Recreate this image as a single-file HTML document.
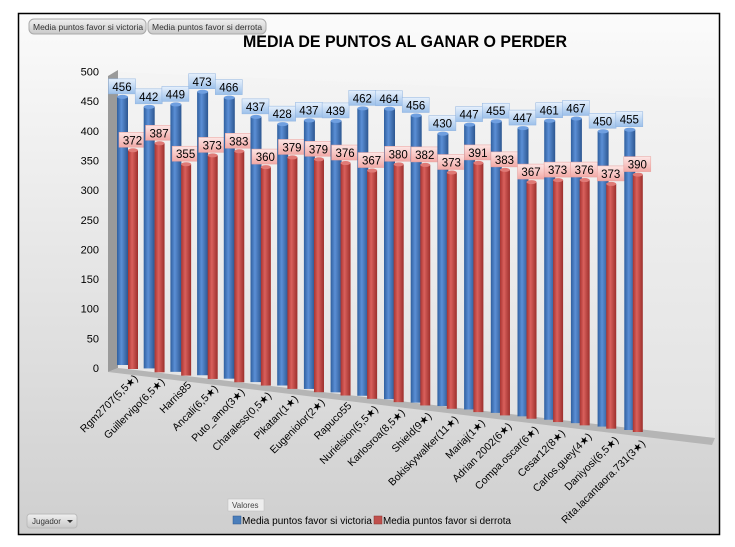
<!DOCTYPE html>
<html><head><meta charset="utf-8">
<style>
html,body{margin:0;padding:0;background:#fff;width:735px;height:547px;overflow:hidden;font-family:"Liberation Sans",sans-serif;}
</style></head>
<body>
<svg id="s" width="735" height="547" xmlns="http://www.w3.org/2000/svg" font-family="Liberation Sans, DejaVu Sans, sans-serif">
<defs>
<linearGradient id="bg" x1="0" y1="0" x2="0" y2="1"><stop offset="0" stop-color="#fbfbfb"/><stop offset="1" stop-color="#cfcfcf"/></linearGradient>
<linearGradient id="wall" x1="0" y1="0" x2="0" y2="1"><stop offset="0" stop-color="#f4f4f4"/><stop offset="1" stop-color="#e2e2e2"/></linearGradient>
<linearGradient id="bb" x1="0" y1="0" x2="1" y2="0"><stop offset="0" stop-color="#2f5f9e"/><stop offset="0.4" stop-color="#5b8fd6"/><stop offset="1" stop-color="#2c5690"/></linearGradient>
<linearGradient id="rb" x1="0" y1="0" x2="1" y2="0"><stop offset="0" stop-color="#a83431"/><stop offset="0.4" stop-color="#d9605c"/><stop offset="1" stop-color="#9c2f2c"/></linearGradient>
<linearGradient id="bl" x1="0" y1="0" x2="0" y2="1"><stop offset="0" stop-color="#e6f0fc"/><stop offset="1" stop-color="#9cc0ea"/></linearGradient>
<linearGradient id="rl" x1="0" y1="0" x2="0" y2="1"><stop offset="0" stop-color="#fde6e5"/><stop offset="1" stop-color="#f2a9a6"/></linearGradient>
<linearGradient id="btn" x1="0" y1="0" x2="0" y2="1"><stop offset="0" stop-color="#f0f0f0"/><stop offset="1" stop-color="#c9c9c9"/></linearGradient>
</defs>
<rect x="18.5" y="13.5" width="701" height="521" fill="url(#bg)" stroke="#000" stroke-width="1.5"/>
<rect x="29" y="19" width="117" height="15" rx="5" fill="url(#btn)" stroke="#aaa"/>
<text x="33" y="30" font-size="8.5" fill="#333">Media puntos favor si victoria</text>
<rect x="148" y="19" width="118" height="15" rx="5" fill="url(#btn)" stroke="#aaa"/>
<text x="152" y="30" font-size="8.5" fill="#333">Media puntos favor si derrota</text>
<text x="243" y="47" font-size="17" font-weight="bold" textLength="324" lengthAdjust="spacingAndGlyphs" fill="#000">MEDIA DE PUNTOS AL GANAR O PERDER</text>
<polygon points="118,72 715,98 715,438 118,368" fill="url(#wall)"/>
<polygon points="108,76 118,70 118,368 108,372" fill="#9a9a9a"/>
<polygon points="108,372 118,368 715,438 712,445" fill="#b5b5b5"/>
<g id="g"></g>
<rect x="228" y="499" width="36" height="12" fill="#eee" stroke="#bbb" stroke-width="0.5"/>
<text x="232" y="508" font-size="8" fill="#444">Valores</text>
<rect x="233" y="516" width="8" height="8" fill="#4a7ebb" stroke="#2c5690" stroke-width="0.5"/>
<text x="242" y="524" font-size="10" textLength="130" lengthAdjust="spacingAndGlyphs" fill="#000">Media puntos favor si victoria</text>
<rect x="374" y="516" width="8" height="8" fill="#c0504d" stroke="#8c2e2b" stroke-width="0.5"/>
<text x="383" y="524" font-size="10" textLength="128" lengthAdjust="spacingAndGlyphs" fill="#000">Media puntos favor si derrota</text>
<rect x="27" y="514" width="50" height="14" rx="3" fill="url(#btn)" stroke="#bbb"/>
<text x="32" y="524" font-size="8" fill="#333">Jugador</text>
<polygon points="67,520 73,520 70,523" fill="#333"/>
</svg>
<script>
var names=["Rgm2707(5,5★)","Guillervigo(6,5★)","Harris85","Ancali(6,5★)","Puto_amo(3★)","Charaless(0,5★)","Pikatan(1★)","Eugeniolor(2★)","Rapuco55","Nurielsion(5,5★)","Karlosroa(8,5★)","Shield(9★)","Bokiskywalker(11★)","Mariaj(1★)","Adrian 2002(6★)","Compa.oscar(6★)","Cesar12(8★)","Carlos.guey(4★)","Daniyosi(6,5★)","Rita.lacantaora.731(3★)"];
var B=[456,442,449,473,466,437,428,437,439,462,464,456,430,447,455,447,461,467,450,455];
var R=[372,387,355,373,383,360,379,379,376,367,380,382,373,391,383,367,373,376,373,390];
var g=document.getElementById('g'),h='';
var ticks=[0,50,100,150,200,250,300,350,400,450,500];
ticks.forEach(function(t){var y=368-t*0.593;h+='<text x="99" y="'+(y+4)+'" font-size="11" text-anchor="end" fill="#000">'+t+'</text>';});
for(var i=0;i<20;i++){
 var f=i/19,xb=122.5+26.7*i,bot=365+65*f,sc=0.588+0.072*f;
 var xr=xb+10.5-2.5*f,botr=bot+4-2*f;
 var tb=bot-B[i]*sc,tr=botr-R[i]*sc;
 h+='<rect x="'+(xb-5.5)+'" y="'+tb+'" width="11" height="'+(bot-tb)+'" fill="url(#bb)"/>';
 h+='<ellipse cx="'+xb+'" cy="'+tb+'" rx="5.5" ry="2" fill="#6f9fe0"/>';
 h+='<rect x="'+(xr-5)+'" y="'+tr+'" width="10" height="'+(botr-tr)+'" fill="url(#rb)"/>';
 h+='<ellipse cx="'+xr+'" cy="'+tr+'" rx="5" ry="2" fill="#e07a76"/>';
 h+='<rect x="'+(xb-14)+'" y="'+(tb-18)+'" width="27" height="15" fill="url(#bl)" stroke="#8fb3e0" stroke-width="0.5"/>';
 h+='<text x="'+(xb-0.5)+'" y="'+(tb-6)+'" font-size="11.5" text-anchor="middle" fill="#000">'+B[i]+'</text>';
 h+='<rect x="'+(xr-14)+'" y="'+(tr-18)+'" width="27" height="15" fill="url(#rl)" stroke="#e8a09c" stroke-width="0.5"/>';
 h+='<text x="'+(xr-0.5)+'" y="'+(tr-6)+'" font-size="11.5" text-anchor="middle" fill="#000">'+R[i]+'</text>';
 var lx=xb+16,ly=bot+14;
 h+='<text x="'+lx+'" y="'+ly+'" font-size="10.5" text-anchor="end" transform="rotate(-45 '+lx+' '+ly+')" fill="#000">'+names[i]+'</text>';
}
g.innerHTML=h;
</script>
</body></html>
